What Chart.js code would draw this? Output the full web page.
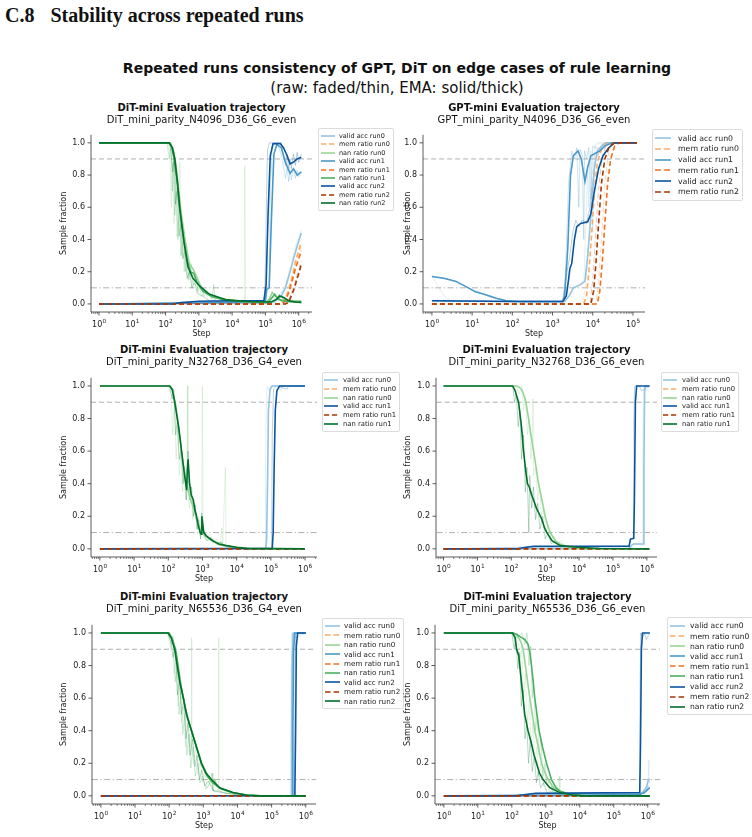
<!DOCTYPE html>
<html>
<head>
<meta charset="utf-8">
<script src="https://cdn.jsdelivr.net/npm/chart.js@4.4.0/dist/chart.umd.min.js"></script>
<style>
  body { margin: 0; background: #fff; width: 752px; height: 837px; position: relative; overflow: hidden; font-family: "DejaVu Sans", sans-serif; color: #111; }
  .t { position: absolute; white-space: nowrap; transform: translate(-50%, -50%); }
  canvas { position: absolute; }
  .leg { position: absolute; border: 1px solid #dcdcdc; border-radius: 2px; background: rgba(255,255,255,0.85); white-space: nowrap; color: #222; }
  .leg div { display: flex; align-items: center; }
  .leg svg { display: block; }
</style>
</head>
<body>
<div style="position:absolute;left:5px;top:4px;font:bold 20px 'Liberation Serif',serif;">C.8<span style="margin-left:16px">Stability across repeated runs</span></div>
<div class="t" style="left:397px;top:68px;font-weight:bold;font-size:14px;">Repeated runs consistency of GPT, DiT on edge cases of rule learning</div>
<div class="t" style="left:397px;top:88px;font-size:15px;">(raw: faded/thin, EMA: solid/thick)</div>

<script>
// ---- shared ticks / reference levels ----
const decadeTicks = [1, 10, 100, 1e3, 1e4, 1e5, 1e6];
const yTicks = [0, 0.2, 0.4, 0.6, 0.8, 1.0];
const refLevels = [0.9, 0.1];

// ---- colours (light -> dark per run) ----
const blues = ['#94c4df', '#4a98c9', '#0b559f'];
const oranges = ['#fdab67', '#f3701b', '#a63603'];
const greens = ['#98d594', '#4bb062', '#00702b'];

// ===== A: DiT N4096 G6 (3 runs) =====
const A_valid0_ema = [[1,0],[1e5,0.005],[2e5,0.02],[3e5,0.05],[4e5,0.1],[5.5e5,0.2],[7e5,0.28],[9e5,0.36],[1.2e6,0.44]];
const A_valid0_raw = [[1,0],[1e5,0.005],[1.5e5,0.01],[2e5,0.03],[3e5,0.07],[4e5,0.12],[5e5,0.18],[6e5,0.24],[7e5,0.31],[8e5,0.36],[1e6,0.41],[1.2e6,0.46]];
const A_mem0_ema = [[1,0],[3e5,0],[4e5,0.03],[5e5,0.08],[6.5e5,0.17],[8e5,0.26],[1e6,0.33],[1.2e6,0.38]];
const A_mem0_raw = [[1,0],[3e5,0],[4e5,0.05],[5e5,0.11],[6.5e5,0.2],[8e5,0.28],[1e6,0.35],[1.2e6,0.4]];
const A_nan0_ema = [[1,1],[140,1],[170,0.96],[200,0.88],[250,0.7],[300,0.55],[400,0.38],[520,0.25],[700,0.21],[850,0.17],[1200,0.1],[2000,0.06],[5000,0.03],[2e4,0.015],[1e5,0.01],[1.3e5,0.03],[1.6e5,0.07],[2e5,0.05],[3e5,0.02],[1.2e6,0.02]];
const A_nan0_raw = [[1,1],[120,1],[135,0.93],[150,0.6],[165,0.88],[180,0.5],[200,0.78],[220,0.42],[245,0.6],[270,0.88],[285,0.3],[320,0.45],[360,0.2],[410,0.35],[470,0.15],[540,0.26],[620,0.1],[720,0.2],[850,0.07],[1000,0.14],[1200,0.04],[1500,0.08],[2000,0.02],[2600,0.05],[3500,0.01],[6000,0.02],[1e4,0.01],[2.3e4,0.01],[2.4e4,0.86],[2.5e4,0.01],[6e4,0.01],[1.3e5,0.02],[1.6e5,0.08],[2e5,0.03],[1.2e6,0.02]];
const A_valid1_ema = [[1,0],[1e3,0.005],[1e4,0.01],[1e5,0.02],[1.1e5,0.09],[1.3e5,0.1],[1.5e5,0.5],[1.8e5,0.93],[2.2e5,0.99],[3e5,0.97],[4e5,0.88],[5.5e5,0.81],[7e5,0.84],[9e5,0.8],[1.2e6,0.82]];
const A_valid1_raw = [[1,0],[1e4,0.01],[1e5,0.02],[1.08e5,0.1],[1.3e5,0.12],[1.4e5,0.7],[1.6e5,0.98],[2.2e5,1.0],[3e5,0.93],[3.5e5,0.85],[4e5,0.78],[4.5e5,0.85],[5e5,0.76],[5.5e5,0.83],[6e5,0.77],[7e5,0.84],[8e5,0.78],[9e5,0.83],[1e6,0.79],[1.2e6,0.82]];
const A_mem1_ema = [[1,0],[3.2e5,0],[4e5,0.02],[5e5,0.07],[6.5e5,0.15],[8e5,0.22],[1e6,0.28],[1.2e6,0.33]];
const A_mem1_raw = [[1,0],[3.2e5,0],[4e5,0.04],[5e5,0.09],[6.5e5,0.17],[8e5,0.24],[1e6,0.3],[1.2e6,0.35]];
const A_nan1_ema = [[1,1],[125,1],[150,0.98],[180,0.9],[220,0.76],[260,0.6],[340,0.42],[450,0.27],[560,0.2],[700,0.19],[900,0.13],[1300,0.08],[2500,0.045],[7000,0.02],[3e4,0.012],[1.2e5,0.01],[1.6e5,0.04],[1.9e5,0.06],[2.4e5,0.03],[4e5,0.015],[1.2e6,0.01]];
const A_nan1_raw = [[1,1],[110,1],[130,0.9],[145,0.98],[160,0.7],[175,0.88],[190,0.55],[210,0.7],[235,0.4],[260,0.55],[300,0.3],[340,0.4],[390,0.2],[440,0.28],[500,0.15],[580,0.25],[680,0.12],[800,0.18],[950,0.08],[1150,0.12],[1400,0.05],[1800,0.07],[2500,0.03],[2800,0.12],[3100,0.02],[6000,0.015],[1.2e5,0.01],[1.8e5,0.06],[2.4e5,0.02],[1.2e6,0.01]];
const A_valid2_ema = [[1,0],[150,0],[300,0.008],[1000,0.017],[1e4,0.02],[9e4,0.02],[1.05e5,0.12],[1.2e5,0.55],[1.4e5,0.92],[1.7e5,0.995],[2.8e5,0.995],[3.5e5,0.97],[4.5e5,0.92],[5.5e5,0.87],[7e5,0.88],[9e5,0.9],[1.2e6,0.91]];
const A_valid2_raw = [[1,0],[300,0.01],[1e4,0.02],[9.5e4,0.02],[1.05e5,0.5],[1.15e5,0.95],[1.3e5,1.0],[3e5,1.0],[3.5e5,0.92],[4e5,0.86],[4.5e5,0.93],[5e5,0.83],[5.5e5,0.9],[6e5,0.84],[7e5,0.93],[8e5,0.86],[9e5,0.94],[1e6,0.88],[1.2e6,0.93]];
const A_mem2_ema = [[1,0],[4e5,0],[5e5,0.01],[6e5,0.05],[7.5e5,0.1],[9e5,0.16],[1.05e6,0.2],[1.2e6,0.25]];
const A_mem2_raw = [[1,0],[4e5,0],[5e5,0.02],[6e5,0.07],[7.5e5,0.12],[9e5,0.18],[1.05e6,0.22],[1.2e6,0.27]];
const A_nan2_ema = [[1,1],[130,1],[160,0.97],[190,0.9],[230,0.75],[270,0.59],[355,0.39],[470,0.23],[660,0.16],[1070,0.11],[2100,0.06],[7000,0.025],[3e4,0.015],[1.5e5,0.012],[2.2e5,0.03],[2.7e5,0.05],[3.5e5,0.04],[5e5,0.02],[8e5,0.012],[1.2e6,0.01]];
const A_nan2_raw = [[1,1],[125,1],[145,0.95],[165,0.82],[180,0.93],[200,0.62],[225,0.72],[255,0.42],[290,0.5],[330,0.28],[380,0.33],[440,0.16],[520,0.2],[620,0.1],[760,0.13],[950,0.06],[1300,0.05],[2000,0.02],[5000,0.012],[2e5,0.01],[2.6e5,0.06],[3.4e5,0.03],[1.2e6,0.01]];

// ===== B: GPT N4096 G6 (3 runs, no nan) =====
const B_valid0_ema = [[1,0.02],[100,0.015],[2000,0.015],[2600,0.05],[3300,0.1],[5000,0.12],[6400,0.14],[7500,0.3],[9000,0.55],[1.1e4,0.85],[1.3e4,0.95],[1.8e4,0.99],[2.5e4,1.0],[1.25e5,1.0]];
const B_valid0_raw = [[1,0.17],[1.5,0.1],[2,0.05],[3,0.02],[100,0.015],[2000,0.015],[2500,0.1],[3000,0.12],[4000,0.1],[5000,0.13],[6000,0.15],[6800,0.5],[7500,0.85],[8000,0.6],[9000,0.95],[1e4,0.45],[1.1e4,0.97],[1.3e4,1.0],[1.25e5,1.0]];
const B_mem0_ema = [[1,0],[6000,0],[7000,0.05],[8000,0.2],[9500,0.45],[1.1e4,0.7],[1.3e4,0.88],[1.7e4,0.97],[2.5e4,1.0],[1.25e5,1.0]];
const B_mem0_raw = [[1,0],[5500,0],[7000,0.15],[8500,0.5],[1e4,0.85],[1.2e4,0.97],[1.5e4,1.0],[1.25e5,1.0]];
const B_valid1_ema = [[1,0.17],[2,0.16],[4,0.14],[8,0.1],[12,0.075],[20,0.06],[40,0.035],[70,0.02],[150,0.015],[1800,0.015],[2000,0.05],[2400,0.35],[2800,0.8],[3300,0.92],[4300,0.95],[5200,0.9],[6400,0.76],[7500,0.85],[9000,0.92],[1.5e4,0.95],[2e4,0.98],[3e4,1.0],[1.25e5,1.0]];
const B_valid1_raw = [[1,0.17],[3,0.15],[10,0.09],[30,0.04],[100,0.015],[1800,0.015],[2100,0.2],[2500,0.75],[3000,0.95],[3500,0.9],[4000,0.97],[4500,0.6],[4800,0.96],[5500,0.92],[6000,0.4],[6300,0.95],[7000,0.9],[8000,0.97],[9000,0.65],[1e4,0.98],[1.5e4,0.96],[2e4,1.0],[1.25e5,1.0]];
const B_mem1_ema = [[1,0],[1.3e4,0],[1.5e4,0.08],[1.75e4,0.28],[2e4,0.5],[2.35e4,0.75],[2.8e4,0.9],[3.5e4,0.98],[4.5e4,1.0],[1.25e5,1.0]];
const B_mem1_raw = [[1,0],[1.2e4,0],[1.4e4,0.15],[1.7e4,0.45],[2e4,0.75],[2.4e4,0.92],[3e4,1.0],[1.25e5,1.0]];
const B_valid2_ema = [[1,0.02],[100,0.015],[1800,0.015],[2200,0.05],[2500,0.15],[2700,0.22],[3000,0.25],[3500,0.4],[4000,0.48],[5000,0.5],[7500,0.51],[9000,0.56],[1.1e4,0.7],[1.4e4,0.84],[1.8e4,0.92],[2.5e4,0.97],[3.5e4,1.0],[1.25e5,1.0]];
const B_valid2_raw = [[1,0.02],[1800,0.015],[2300,0.2],[2700,0.3],[3200,0.45],[3800,0.52],[4500,0.48],[5500,0.52],[7000,0.5],[8500,0.6],[1e4,0.75],[1.2e4,0.9],[1.5e4,0.95],[2e4,1.0],[1.25e5,1.0]];
const B_mem2_ema = [[1,0],[9000,0],[1.05e4,0.08],[1.2e4,0.25],[1.4e4,0.5],[1.65e4,0.75],[2e4,0.9],[2.6e4,0.98],[3.5e4,1.0],[1.25e5,1.0]];
const B_mem2_raw = [[1,0],[8500,0],[1e4,0.15],[1.2e4,0.45],[1.4e4,0.72],[1.7e4,0.9],[2.2e4,1.0],[1.25e5,1.0]];

// ===== C: DiT N32768 G4 (2 runs) =====
const C_valid0_ema = [[1,0],[7e4,0.002],[7.5e4,0.05],[8e4,0.4],[8.5e4,0.85],[9.5e4,0.98],[1.1e5,1.0],[1e6,1.0]];
const C_valid0_raw = [[1,0],[6.8e4,0],[7e4,0.6],[7.5e4,0.95],[8e4,1.0],[9e4,0.97],[1e5,1.0],[1.5e5,1.0],[2e5,0.97],[2.2e5,1.0],[1e6,1.0]];
const C_mem0_ema = [[1,0],[1e6,0]];
const C_nan0_ema = [[1,1],[110,1],[135,0.97],[165,0.88],[210,0.72],[260,0.55],[330,0.42],[420,0.32],[550,0.25],[700,0.17],[900,0.11],[1200,0.08],[1600,0.06],[2100,0.045],[3000,0.035],[3500,0.04],[4000,0.025],[6000,0.015],[1.2e4,0.005],[2e4,0],[1e6,0]];
const C_nan0_raw = [[1,1],[100,1],[120,0.95],[135,0.7],[150,0.9],[170,0.55],[190,0.75],[210,0.45],[235,0.6],[260,0.35],[290,0.5],[320,0.3],[350,0.45],[365,1.0],[375,0.35],[420,0.25],[470,0.35],[520,0.18],[600,0.28],[680,0.12],[760,0.2],[850,0.08],[950,0.15],[1000,1.0],[1050,0.1],[1300,0.05],[1600,0.09],[2000,0.03],[2600,0.06],[3200,0.02],[3700,0.13],[3900,0.02],[4700,0.5],[4900,0.02],[7000,0.01],[1.2e4,0.005],[2e4,0],[1e6,0]];
const C_valid1_ema = [[1,0],[1.1e5,0.003],[1.17e5,0.1],[1.25e5,0.5],[1.35e5,0.85],[1.5e5,0.97],[1.8e5,1.0],[1e6,1.0]];
const C_valid1_raw = [[1,0],[1.05e5,0],[1.1e5,0.7],[1.2e5,0.98],[1.4e5,1.0],[3e5,0.98],[3.3e5,1.0],[1e6,1.0]];
const C_mem1_ema = [[1,0],[1e6,0]];
const C_nan1_ema = [[1,1],[110,1],[130,0.98],[155,0.9],[200,0.75],[245,0.6],[300,0.45],[325,0.4],[345,0.36],[360,0.48],[380,0.55],[420,0.4],[470,0.33],[540,0.3],[600,0.24],[670,0.2],[760,0.14],[860,0.1],[920,0.09],[960,0.2],[1020,0.15],[1100,0.1],[1300,0.08],[1600,0.065],[2000,0.05],[3000,0.03],[5000,0.02],[1e4,0.01],[2e4,0.003],[1e6,0]];
const C_nan1_raw = [[1,1],[110,1],[130,0.92],[145,0.98],[165,0.7],[185,0.8],[210,0.55],[240,0.62],[270,0.4],[300,0.5],[340,0.3],[380,0.6],[420,0.3],[480,0.38],[540,0.2],[620,0.27],[700,0.12],[780,0.18],[880,0.06],[960,0.22],[1100,0.08],[1400,0.05],[1800,0.07],[2500,0.03],[3500,0.02],[6000,0.01],[2e4,0],[1e6,0]];

// ===== D: DiT N32768 G6 (2 runs) =====
const D_valid0_ema = [[1,0],[3e5,0.002],[3.5e5,0.02],[4e5,0.03],[7.8e5,0.03],[8.2e5,0.5],[8.6e5,0.97],[9e5,1.0],[1.2e6,1.0]];
const D_valid0_raw = [[1,0],[3.5e5,0.01],[3.8e5,0.03],[7.5e5,0.03],[7.8e5,0.9],[8.2e5,1.0],[1e6,0.97],[1.2e6,1.0]];
const D_mem0_ema = [[1,0],[1.2e6,0]];
const D_nan0_ema = [[1,1],[150,1],[200,0.98],[230,0.95],[270,0.9],[323,0.8],[380,0.7],[455,0.6],[540,0.5],[635,0.4],[800,0.3],[1000,0.2],[1200,0.14],[1410,0.1],[2000,0.05],[2760,0.03],[5000,0.01],[1.7e4,0],[1.2e6,0]];
const D_nan0_raw = [[1,1],[140,1],[170,0.95],[200,1.0],[230,0.85],[260,0.93],[300,0.7],[340,0.8],[380,0.55],[420,0.7],[435,0.92],[450,0.45],[520,0.5],[600,0.3],[680,0.4],[780,0.2],[900,0.25],[1050,0.1],[1250,0.15],[1500,0.05],[1800,0.08],[2300,0.02],[3000,0.05],[4000,0.01],[6000,0.02],[1e4,0.005],[2e4,0],[1.2e6,0]];
const D_valid1_ema = [[1,0],[150,0],[250,0.008],[455,0.015],[3e5,0.017],[3.3e5,0.06],[4.1e5,0.065],[4.3e5,0.3],[4.6e5,0.9],[5e5,1.0],[1.2e6,1.0]];
const D_valid1_raw = [[1,0],[200,0.01],[400,0.015],[3e5,0.017],[3.2e5,0.06],[4e5,0.065],[4.15e5,0.8],[4.4e5,1.0],[6e5,1.0],[7e5,0.97],[1.2e6,1.0]];
const D_mem1_ema = [[1,0],[1.2e6,0]];
const D_nan1_ema = [[1,1],[110,1],[130,0.97],[164,0.9],[200,0.75],[230,0.6],[270,0.47],[300,0.4],[340,0.38],[400,0.33],[455,0.3],[550,0.25],[650,0.22],[800,0.18],[950,0.13],[1120,0.1],[1590,0.05],[2760,0.02],[8500,0.01],[4e4,0.002],[1.2e6,0]];
const D_nan1_raw = [[1,1],[110,1],[125,0.9],[140,0.95],[160,0.75],[180,0.85],[200,0.55],[230,0.7],[260,0.35],[290,0.5],[330,0.1],[350,0.45],[400,0.25],[450,0.38],[520,0.18],[600,0.28],[700,0.12],[850,0.2],[1000,0.06],[1200,0.1],[1500,0.03],[2000,0.05],[3000,0.015],[6000,0.008],[4e4,0],[1.2e6,0]];

// ===== E: DiT N65536 G4 (3 runs) =====
const E_valid0_ema = [[1,0],[3.7e5,0.002],[3.85e5,0.3],[4e5,0.85],[4.3e5,1.0],[1e6,1.0]];
const E_valid0_raw = [[1,0],[3.6e5,0],[3.7e5,0.8],[3.9e5,1.0],[4.1e5,0.9],[4.3e5,1.0],[1e6,1.0]];
const E_valid1_ema = [[1,0],[4e5,0.002],[4.2e5,0.4],[4.4e5,0.9],[4.8e5,1.0],[1e6,1.0]];
const E_valid1_raw = [[1,0],[3.9e5,0],[4.05e5,0.85],[4.3e5,1.0],[5e5,0.97],[1e6,1.0]];
const E_valid2_ema = [[1,0],[4.8e5,0.002],[5.05e5,0.4],[5.3e5,0.92],[5.8e5,1.0],[1e6,1.0]];
const E_valid2_raw = [[1,0],[4.7e5,0],[4.9e5,0.9],[5.2e5,1.0],[1e6,1.0]];
const E_mem_ema = [[1,0],[1e6,0]];
const E_nan0_ema = [[1,1],[95,1],[120,0.97],[150,0.9],[210,0.7],[270,0.58],[340,0.48],[470,0.39],[640,0.3],[900,0.2],[1300,0.13],[1800,0.09],[2100,0.1],[2500,0.06],[3500,0.04],[8000,0.015],[2e4,0.004],[5e4,0],[1e6,0]];
const E_nan0_raw = [[1,1],[90,1],[110,0.9],[125,0.97],[140,0.75],[160,0.85],[180,0.55],[205,0.7],[230,0.45],[260,0.55],[300,0.3],[340,0.45],[390,0.25],[440,0.38],[450,0.97],[460,0.3],[520,0.2],[600,0.3],[700,0.13],[800,0.22],[950,0.08],[1100,0.15],[1300,0.05],[1600,0.09],[2000,0.03],[2800,0.04],[2820,0.97],[2840,0.03],[4000,0.02],[7000,0.01],[2e4,0.003],[5e4,0],[1e6,0]];
const E_nan1_ema = [[1,1],[100,1],[125,0.96],[160,0.88],[220,0.68],[290,0.55],[360,0.47],[480,0.38],[650,0.29],[900,0.19],[1300,0.12],[1900,0.08],[3200,0.045],[7000,0.02],[2e4,0.004],[5e4,0],[1e6,0]];
const E_nan1_raw = [[1,1],[95,1],[115,0.93],[130,0.98],[150,0.7],[170,0.82],[195,0.5],[220,0.65],[250,0.38],[290,0.5],[330,0.25],[380,0.38],[430,0.17],[500,0.3],[580,0.12],[680,0.2],[800,0.08],[950,0.12],[1200,0.04],[1500,0.07],[1800,0.14],[1900,0.03],[2800,0.03],[5000,0.015],[2e4,0.003],[5e4,0],[1e6,0]];
const E_nan2_ema = [[1,1],[93,1],[115,0.97],[145,0.9],[204,0.7],[260,0.6],[320,0.5],[450,0.4],[630,0.3],[880,0.2],[1200,0.14],[1730,0.1],[3020,0.05],[7400,0.02],[1.8e4,0.005],[4.4e4,0],[1e6,0]];
const E_nan2_raw = [[1,1],[90,1],[110,0.95],[130,0.85],[150,0.92],[175,0.62],[200,0.72],[230,0.5],[270,0.6],[310,0.35],[360,0.45],[420,0.25],[490,0.35],[570,0.18],[660,0.25],[780,0.1],[900,0.16],[1100,0.06],[1400,0.09],[2000,0.03],[3500,0.02],[8000,0.01],[2e4,0.002],[5e4,0],[1e6,0]];

// ===== F: DiT N65536 G6 (3 runs) =====
const F_valid0_ema = [[1,0],[5e5,0.003],[7e5,0.02],[9e5,0.05],[1.05e6,0.1],[1.15e6,0.1]];
const F_valid0_raw = [[1,0],[5e5,0],[7e5,0.03],[8e5,0.01],[9e5,0.06],[1e6,0.04],[1.08e6,0.22],[1.1e6,0.08],[1.15e6,0.1]];
const F_valid1_ema = [[1,0],[1e4,0.003],[6e5,0.01],[8e5,0.02],[1e6,0.04],[1.15e6,0.05]];
const F_valid1_raw = [[1,0],[6e5,0.01],[9e5,0.03],[1e6,0.06],[1.15e6,0.05]];
const F_valid2_ema = [[1,0],[130,0],[250,0.008],[500,0.015],[5.8e5,0.02],[6.1e5,0.3],[6.5e5,0.9],[7e5,1.0],[1.15e6,1.0]];
const F_valid2_raw = [[1,0],[200,0.005],[500,0.015],[5.7e5,0.02],[5.9e5,0.6],[6.2e5,1.0],[7e5,0.97],[8e5,1.0],[9e5,0.96],[1.15e6,1.0]];
const F_mem_ema = [[1,0],[1.15e6,0]];
const F_nan0_ema = [[1,1],[110,1],[150,0.98],[190,0.94],[215,0.9],[270,0.75],[340,0.6],[400,0.5],[475,0.4],[600,0.3],[750,0.2],[950,0.14],[1170,0.1],[1700,0.05],[2600,0.02],[6000,0.005],[1.5e4,0],[1.15e6,0]];
const F_nan0_raw = [[1,1],[100,1],[125,0.95],[145,1.0],[170,0.8],[195,0.92],[225,0.6],[250,0.75],[290,0.45],[330,0.6],[370,0.3],[420,0.45],[480,0.2],[540,0.3],[620,0.12],[720,0.2],[850,0.06],[1000,0.12],[1200,0.03],[1500,0.06],[2000,0.02],[2500,0.12],[2600,0.01],[5000,0.005],[1.5e4,0],[1.15e6,0]];
const F_nan1_ema = [[1,1],[110,1],[140,0.99],[200,0.97],[240,0.96],[300,0.93],[340,0.88],[380,0.8],[475,0.6],[635,0.4],[800,0.3],[1050,0.2],[1470,0.1],[2000,0.05],[2570,0.03],[5000,0.01],[1.5e4,0],[1.15e6,0]];
const F_nan1_raw = [[1,1],[105,1],[140,0.97],[200,1.0],[240,0.93],[280,1.0],[320,0.8],[360,0.92],[400,0.6],[440,0.72],[500,0.4],[560,0.5],[630,0.25],[720,0.35],[820,0.12],[950,0.2],[1100,0.06],[1300,0.1],[1600,0.03],[2000,0.05],[2600,0.01],[5000,0.005],[1.5e4,0],[1.15e6,0]];
const F_nan2_ema = [[1,1],[105,1],[125,0.97],[138,0.9],[160,0.86],[192,0.7],[240,0.5],[300,0.4],[380,0.32],[450,0.25],[535,0.2],[650,0.14],[830,0.1],[1310,0.05],[2570,0.02],[6000,0.005],[1.2e4,0],[1.15e6,0]];
const F_nan2_raw = [[1,1],[100,1],[118,0.9],[130,0.97],[150,0.78],[170,0.88],[190,0.55],[215,0.65],[245,0.35],[275,0.45],[310,0.2],[350,0.35],[400,0.15],[460,0.25],[530,0.08],[600,0.15],[700,0.05],[850,0.08],[1100,0.02],[1500,0.03],[2500,0.008],[1.2e4,0],[1.15e6,0]];

// ---- panel layout (plot rectangles in page px) ----
const panels = [
  { title: 'DiT-mini Evaluation trajectory', sub: 'DiT_mini_parity_N4096_D36_G6_even',
    l: 91, r: 312, t: 127.6, b: 311.4, xlo: -0.24, xhi: 6.4, titleY: 107, ylabX: 64,
    leg: { x: 318, y0: 136, row: 8.4, font: 6.5, lx: 321, lw: 14, tx: 339 },
    runs: [
      { c: 0, valid: [A_valid0_raw, A_valid0_ema], mem: [A_mem0_raw, A_mem0_ema], nan: [A_nan0_raw, A_nan0_ema] },
      { c: 1, valid: [A_valid1_raw, A_valid1_ema], mem: [A_mem1_raw, A_mem1_ema], nan: [A_nan1_raw, A_nan1_ema] },
      { c: 2, valid: [A_valid2_raw, A_valid2_ema], mem: [A_mem2_raw, A_mem2_ema], nan: [A_nan2_raw, A_nan2_ema] }] },
  { title: 'GPT-mini Evaluation trajectory', sub: 'GPT_mini_parity_N4096_D36_G6_even',
    l: 423, r: 645, t: 127.6, b: 311.4, xlo: -0.22, xhi: 5.3, titleY: 107, ylabX: 408,
    leg: { x: 652, y0: 138.3, row: 10.7, font: 7.8, lx: 655, lw: 16, tx: 678 },
    runs: [
      { c: 0, valid: [B_valid0_raw, B_valid0_ema], mem: [B_mem0_raw, B_mem0_ema] },
      { c: 1, valid: [B_valid1_raw, B_valid1_ema], mem: [B_mem1_raw, B_mem1_ema] },
      { c: 2, valid: [B_valid2_raw, B_valid2_ema], mem: [B_mem2_raw, B_mem2_ema] }] },
  { title: 'DiT-mini Evaluation trajectory', sub: 'DiT_mini_parity_N32768_D36_G4_even',
    l: 91, r: 317, t: 370.5, b: 556.5, xlo: -0.26, xhi: 6.35, titleY: 349, ylabX: 64,
    leg: { x: 322, y0: 380, row: 8.8, font: 6.8, lx: 324, lw: 14, tx: 343 },
    runs: [
      { c: 0, valid: [C_valid0_raw, C_valid0_ema], mem: [null, C_mem0_ema], nan: [C_nan0_raw, C_nan0_ema] },
      { c: 2, valid: [C_valid1_raw, C_valid1_ema], mem: [null, C_mem1_ema], nan: [C_nan1_raw, C_nan1_ema] }] },
  { title: 'DiT-mini Evaluation trajectory', sub: 'DiT_mini_parity_N32768_D36_G6_even',
    l: 436, r: 657, t: 370.5, b: 556.5, xlo: -0.2, xhi: 6.3, titleY: 349, ylabX: 408,
    leg: { x: 661, y0: 380, row: 8.8, font: 6.8, lx: 663, lw: 14, tx: 682 },
    runs: [
      { c: 0, valid: [D_valid0_raw, D_valid0_ema], mem: [null, D_mem0_ema], nan: [D_nan0_raw, D_nan0_ema] },
      { c: 2, valid: [D_valid1_raw, D_valid1_ema], mem: [null, D_mem1_ema], nan: [D_nan1_raw, D_nan1_ema] }] },
  { title: 'DiT-mini Evaluation trajectory', sub: 'DiT_mini_parity_N65536_D36_G4_even',
    l: 92, r: 316, t: 617.5, b: 803.5, xlo: -0.26, xhi: 6.3, titleY: 596, ylabX: 64,
    leg: { x: 322, y0: 626, row: 9.4, font: 7.2, lx: 325, lw: 15, tx: 344 },
    runs: [
      { c: 0, valid: [E_valid0_raw, E_valid0_ema], mem: [null, E_mem_ema], nan: [E_nan0_raw, E_nan0_ema] },
      { c: 1, valid: [E_valid1_raw, E_valid1_ema], mem: [null, E_mem_ema], nan: [E_nan1_raw, E_nan1_ema] },
      { c: 2, valid: [E_valid2_raw, E_valid2_ema], mem: [null, E_mem_ema], nan: [E_nan2_raw, E_nan2_ema] }] },
  { title: 'DiT-mini Evaluation trajectory', sub: 'DiT_mini_parity_N65536_D36_G6_even',
    l: 435, r: 660, t: 617.5, b: 803.5, xlo: -0.26, xhi: 6.36, titleY: 596, ylabX: 408,
    leg: { x: 667, y0: 626, row: 10.1, font: 7.6, lx: 670, lw: 15, tx: 690 },
    runs: [
      { c: 0, valid: [F_valid0_raw, F_valid0_ema], mem: [null, F_mem_ema], nan: [F_nan0_raw, F_nan0_ema] },
      { c: 1, valid: [F_valid1_raw, F_valid1_ema], mem: [null, F_mem_ema], nan: [F_nan1_raw, F_nan1_ema] },
      { c: 2, valid: [F_valid2_raw, F_valid2_ema], mem: [null, F_mem_ema], nan: [F_nan2_raw, F_nan2_ema] }] }
];

const YW = 45, XH = 30, PAD = 4;
const tickFont = { family: 'DejaVu Sans', size: 8 };

function withAlpha(hex, a) {
  const n = parseInt(hex.slice(1), 16);
  return `rgba(${n >> 16},${(n >> 8) & 255},${n & 255},${a})`;
}

// spines, outward tick marks and 10^n labels like matplotlib (left/bottom only)
const mplAxes = {
  id: 'mplAxes',
  afterDraw(chart) {
    const { ctx, chartArea: a, scales: { x, y } } = chart;
    ctx.save();
    ctx.strokeStyle = '#333';
    ctx.lineWidth = 0.8;
    ctx.beginPath();
    ctx.moveTo(a.left, a.top);
    ctx.lineTo(a.left, a.bottom);
    ctx.lineTo(a.right, a.bottom);
    yTicks.forEach(v => {
      const py = y.getPixelForValue(v);
      ctx.moveTo(a.left, py); ctx.lineTo(a.left - 3.5, py);
    });
    decadeTicks.forEach(v => {
      if (v < x.min || v > x.max) return;
      const px = x.getPixelForValue(v);
      ctx.moveTo(px, a.bottom); ctx.lineTo(px, a.bottom + 3.5);
    });
    ctx.stroke();
    ctx.lineWidth = 0.6;
    ctx.beginPath();
    decadeTicks.concat([1e-1]).forEach(d => {
      for (let m = 2; m <= 9; m++) {
        const v = d * m;
        if (v < x.min || v > x.max) continue;
        const px = x.getPixelForValue(v);
        ctx.moveTo(px, a.bottom); ctx.lineTo(px, a.bottom + 2);
      }
    });
    ctx.stroke();

    // decade labels: "10" with raised exponent
    ctx.fillStyle = '#222';
    ctx.textBaseline = 'alphabetic';
    ctx.textAlign = 'left';
    decadeTicks.forEach(v => {
      if (v < x.min || v > x.max) return;
      const px = x.getPixelForValue(v);
      const ex = String(Math.round(Math.log10(v)));
      ctx.font = '8px "DejaVu Sans"';
      const wb = ctx.measureText('10').width;
      ctx.font = '5.8px "DejaVu Sans"';
      const we = ctx.measureText(ex).width;
      const x0 = px - (wb + we) / 2;
      ctx.font = '8px "DejaVu Sans"';
      ctx.fillText('10', x0, a.bottom + 15);
      ctx.font = '5.8px "DejaVu Sans"';
      ctx.fillText(ex, x0 + wb + 0.3, a.bottom + 10.5);
    });
    ctx.restore();
  }
};

function addText(txt, x, y, css) {
  const d = document.createElement('div');
  d.className = 't';
  d.textContent = txt;
  d.style.left = x + 'px';
  d.style.top = y + 'px';
  d.style.cssText += css;
  document.body.appendChild(d);
}

function buildPanel(p) {
  const datasets = [];
  const legendItems = [];
  let k = 0;
  const xmin = Math.pow(10, p.xlo), xmax = Math.pow(10, p.xhi);

  refLevels.forEach((lv, i) => {
    datasets.push({
      data: [{ x: xmin, y: lv }, { x: xmax, y: lv }],
      borderColor: 'rgba(150,150,150,0.75)', borderWidth: 1,
      borderDash: i === 0 ? [5, 3] : [6, 2.5, 1.2, 2.5],
      pointRadius: 0, order: 30000
    });
  });

  p.runs.forEach((run, ri) => {
    const metrics = [
      ['valid', 'valid acc', blues, []],
      ['mem', 'mem ratio', oranges, [5, 3]],
      ['nan', 'nan ratio', greens, []]
    ];
    metrics.forEach(([key, name, pal, dash]) => {
      if (!run[key]) return;
      const col = pal[run.c];
      const [raw, ema] = run[key];
      if (raw) {
        datasets.push({
          data: raw.map(q => ({ x: q[0], y: q[1] })),
          borderColor: withAlpha(col, 0.35), borderWidth: 0.8, borderDash: dash,
          pointRadius: 0, order: 20000 - k++
        });
      }
      datasets.push({
        data: ema.map(q => ({ x: q[0], y: q[1] })),
        borderColor: col, borderWidth: 1.6, borderDash: dash,
        pointRadius: 0, order: 10000 - k++
      });
      legendItems.push({ label: `${name} run${ri}`, color: col, dash: dash.length > 0 });
    });
  });

  const cv = document.createElement('canvas');
  const W = (p.r - p.l) + YW + PAD, H = (p.b - p.t) + PAD + XH;
  cv.width = Math.round(W); cv.height = Math.round(H);
  cv.style.left = (p.l - YW) + 'px';
  cv.style.top = (p.t - PAD) + 'px';
  document.body.appendChild(cv);

  new Chart(cv, {
    type: 'line',
    data: { datasets },
    options: {
      responsive: false, animation: false, events: [],
      layout: { padding: { top: PAD, right: PAD, left: 0, bottom: 0 } },
      plugins: { legend: { display: false }, tooltip: { enabled: false } },
      elements: { line: { tension: 0 }, point: { radius: 0 } },
      scales: {
        x: {
          type: 'logarithmic', min: xmin, max: xmax,
          afterBuildTicks: s => { s.ticks = decadeTicks.filter(v => v >= xmin && v <= xmax).map(v => ({ value: v })); },
          afterFit: s => { s.height = XH; },
          grid: { display: false, drawTicks: false }, border: { display: false },
          ticks: { display: false },
          title: { display: true, text: 'Step', color: '#222', font: tickFont, padding: { top: 0, bottom: XH - 26.8 } }
        },
        y: {
          type: 'linear', min: -0.05, max: 1.05,
          afterBuildTicks: s => { s.ticks = yTicks.map(v => ({ value: v })); },
          afterFit: s => { s.width = YW; },
          grid: { display: false, drawTicks: false }, border: { display: false },
          ticks: { padding: 6, color: '#222', font: tickFont, callback: v => v.toFixed(1) },
          title: { display: true, text: 'Sample fraction', color: '#222', font: tickFont,
                   padding: { top: p.ylabX - (p.l - YW) - 4.8, bottom: 0 } }
        }
      }
    },
    plugins: [mplAxes]
  });

  const cx = (p.l + p.r) / 2;
  addText(p.title, cx, p.titleY, 'font-weight:bold;font-size:10px;');
  addText(p.sub, cx, p.titleY + 12.3, 'font-size:10px;');

  // legend box
  const lg = p.leg;
  const box = document.createElement('div');
  box.className = 'leg';
  const padY = 2.5;
  box.style.left = lg.x + 'px';
  box.style.top = (lg.y0 - lg.row / 2 - padY - 1) + 'px';
  box.style.padding = `${padY}px 3px ${padY}px ${lg.lx - lg.x - 1}px`;
  box.style.fontSize = lg.font + 'px';
  legendItems.forEach(it => {
    const row = document.createElement('div');
    row.style.height = lg.row + 'px';
    const dashAttr = it.dash ? `stroke-dasharray="${lg.lw * 0.37} ${lg.lw * 0.2}"` : '';
    row.innerHTML = `<svg width="${lg.lw}" height="4"><line x1="0" y1="2" x2="${lg.lw}" y2="2" stroke="${it.color}" stroke-width="1.6" ${dashAttr}/></svg>` +
      `<span style="margin-left:${lg.tx - lg.lx - lg.lw}px">${it.label}</span>`;
    box.appendChild(row);
  });
  document.body.appendChild(box);
}

panels.forEach(buildPanel);
</script>
</body>
</html>
